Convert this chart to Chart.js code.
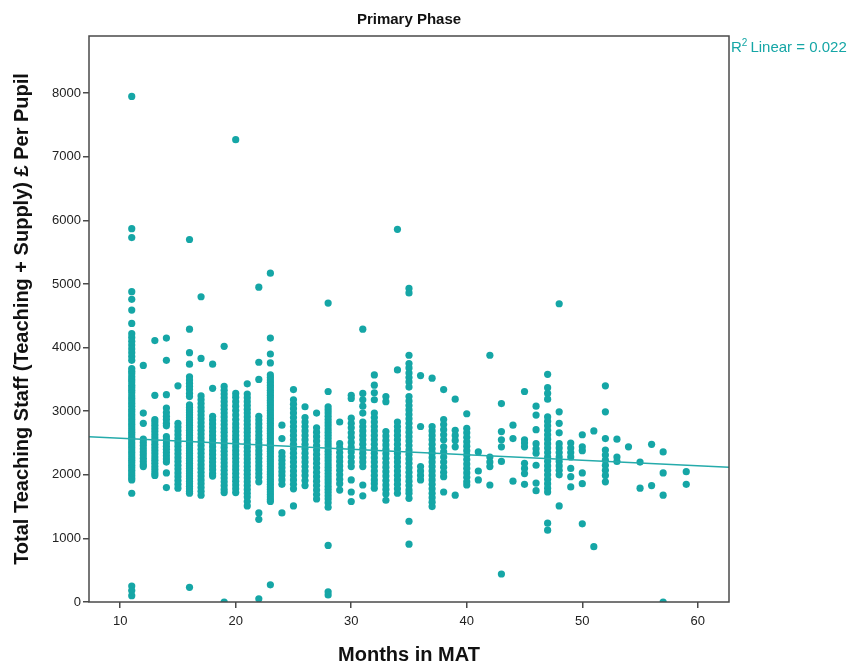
<!DOCTYPE html>
<html>
<head>
<meta charset="utf-8">
<title>Primary Phase</title>
<script src="https://cdn.jsdelivr.net/npm/chart.js@4.4.1/dist/chart.umd.min.js"></script>
<style>
  body { margin: 0; background: #fff; }
  canvas { display: block; }
</style>
</head>
<body>
<canvas id="phaseChart" width="849" height="664"></canvas>
<script>
// Teaching staff cost per pupil, one list per "months in MAT" value
const month11 = [7950, 5870, 5730, 4880, 4760, 4590, 4380, 4220, 4160, 4100, 4040, 3980, 3920, 3860, 3800,
  3670, 3630, 3590, 3540, 3500, 3460, 3410, 3370, 3330, 3290, 3240, 3200, 3160, 3120, 3080, 3030, 2990,
  2950, 2910, 2870, 2830, 2790, 2750, 2710, 2670, 2630, 2590, 2550, 2510, 2470, 2430, 2390, 2350, 2310,
  2270, 2230, 2190, 2150, 2110, 2070, 2030, 1990, 1950, 1920, 1710, 250, 180, 100];
const month12 = [3720, 2970, 2810, 2560, 2510, 2460, 2410, 2360, 2310, 2260, 2210, 2160, 2130];
const month13 = [4110, 3250, 2870, 2830, 2780, 2730, 2680, 2630, 2580, 2530, 2480, 2430, 2380, 2330, 2280,
  2230, 2180, 2130, 2080, 2030, 1990];
const month14 = [4150, 3800, 3260, 3050, 2980, 2920, 2870, 2810, 2770, 2600, 2550, 2500, 2450, 2400, 2350,
  2300, 2250, 2200, 2030, 1800];
const month15 = [3400, 2810, 2750, 2690, 2630, 2570, 2510, 2450, 2390, 2330, 2270, 2210, 2150, 2090, 2030,
  1970, 1910, 1850, 1790];
const month16 = [5700, 4290, 3920, 3740, 3540, 3490, 3440, 3390, 3340, 3280, 3230, 3100, 3060, 3020, 2980,
  2940, 2900, 2860, 2820, 2780, 2740, 2700, 2660, 2620, 2580, 2540, 2500, 2460, 2420, 2380, 2340, 2300,
  2260, 2220, 2180, 2140, 2100, 2060, 2020, 1980, 1940, 1900, 1860, 1820, 1780, 1740, 1710, 230];
const month17 = [4800, 3830, 3240, 3180, 3120, 3060, 3000, 2940, 2880, 2820, 2760, 2700, 2640, 2580, 2520,
  2460, 2400, 2340, 2280, 2220, 2160, 2100, 2040, 1980, 1920, 1860, 1800, 1740, 1680];
const month18 = [3740, 3360, 2920, 2860, 2800, 2740, 2680, 2620, 2560, 2500, 2440, 2380, 2320, 2260, 2200,
  2140, 2080, 2020, 1980];
const month19 = [4020, 3390, 3330, 3270, 3210, 3150, 3090, 3030, 2970, 2910, 2850, 2790, 2730, 2670, 2610,
  2550, 2490, 2430, 2370, 2310, 2250, 2190, 2130, 2070, 2010, 1950, 1890, 1830, 1770, 1720, 0];
const month20 = [7270, 3280, 3220, 3150, 3080, 3010, 2940, 2870, 2800, 2740, 2680, 2620, 2560, 2500, 2440,
  2380, 2320, 2260, 2200, 2140, 2080, 2020, 1960, 1900, 1840, 1780, 1720];
const month21 = [3430, 3270, 3210, 3150, 3090, 3030, 2970, 2910, 2850, 2790, 2730, 2670, 2610, 2550, 2490,
  2430, 2370, 2310, 2250, 2190, 2130, 2070, 2010, 1950, 1890, 1830, 1770, 1710, 1650, 1580, 1510];
const month22 = [4950, 3770, 3500, 2920, 2860, 2800, 2740, 2680, 2620, 2560, 2500, 2440, 2380, 2320, 2260,
  2200, 2140, 2080, 2020, 1960, 1890, 1400, 1300, 50];
const month23 = [5170, 4150, 3900, 3760, 3570, 3530, 3490, 3450, 3410, 3370, 3330, 3290, 3250, 3210, 3170,
  3130, 3090, 3050, 3010, 2970, 2930, 2890, 2850, 2810, 2770, 2730, 2690, 2650, 2610, 2570, 2530, 2490,
  2450, 2410, 2370, 2330, 2290, 2250, 2210, 2170, 2130, 2090, 2050, 2010, 1970, 1930, 1890, 1850, 1810,
  1770, 1730, 1690, 1650, 1610, 1580, 270];
const month24 = [2780, 2570, 2350, 2290, 2230, 2170, 2110, 2050, 1990, 1920, 1850, 1400];
const month25 = [3340, 3180, 3110, 3040, 2970, 2900, 2830, 2760, 2690, 2620, 2550, 2480, 2410, 2340, 2270,
  2200, 2130, 2060, 1990, 1920, 1850, 1780, 1510];
const month26 = [3070, 2900, 2830, 2760, 2690, 2620, 2550, 2480, 2410, 2340, 2270, 2200, 2130, 2060, 1990,
  1910, 1830];
const month27 = [2970, 2740, 2670, 2600, 2530, 2460, 2390, 2320, 2250, 2180, 2110, 2040, 1970, 1900, 1830,
  1760, 1690, 1620];
const month28 = [4700, 3310, 3070, 3020, 2970, 2920, 2870, 2820, 2770, 2720, 2670, 2620, 2570, 2520, 2470,
  2420, 2370, 2320, 2270, 2220, 2170, 2120, 2070, 2020, 1970, 1920, 1870, 1820, 1770, 1720, 1670, 1620,
  1560, 1490, 890, 160, 110];
const month29 = [2830, 2490, 2420, 2350, 2280, 2210, 2140, 2070, 2000, 1930, 1860, 1760];
const month30 = [3250, 3200, 2890, 2810, 2740, 2660, 2590, 2510, 2430, 2360, 2280, 2200, 2130, 1920, 1730, 1580];
const month31 = [4290, 3280, 3180, 3080, 2970, 2830, 2760, 2690, 2620, 2550, 2480, 2410, 2340, 2270, 2200,
  2130, 1840, 1670];
const month32 = [3570, 3410, 3290, 3180, 2970, 2900, 2830, 2760, 2690, 2620, 2550, 2480, 2410, 2340, 2270,
  2200, 2130, 2060, 1990, 1920, 1860, 1790];
const month33 = [3230, 3150, 2680, 2610, 2540, 2470, 2400, 2330, 2260, 2190, 2120, 2050, 1980, 1910, 1840,
  1770, 1700, 1600];
const month34 = [5860, 3650, 2830, 2760, 2690, 2620, 2550, 2480, 2410, 2340, 2270, 2200, 2130, 2060, 1990,
  1920, 1850, 1780, 1710];
const month35 = [4930, 4860, 3880, 3750, 3680, 3600, 3530, 3460, 3380, 3230, 3160, 3090, 3020, 2950, 2880,
  2810, 2740, 2670, 2600, 2530, 2460, 2390, 2320, 2250, 2180, 2110, 2040, 1970, 1900, 1830, 1760, 1710,
  1630, 1270, 910];
const month36 = [3560, 2760, 2130, 2060, 1990, 1920];
const month37 = [3520, 2760, 2690, 2620, 2550, 2480, 2410, 2340, 2270, 2200, 2130, 2060, 1990, 1920, 1850,
  1780, 1710, 1640, 1570, 1500];
const month38 = [3340, 2870, 2790, 2710, 2630, 2550, 2440, 2360, 2280, 2200, 2120, 2040, 1970, 1730];
const month39 = [3190, 2700, 2620, 2540, 2440, 1680];
const month40 = [2960, 2730, 2660, 2590, 2520, 2450, 2380, 2310, 2240, 2170, 2100, 2030, 1960, 1890, 1840];
const month41 = [2360, 2060, 1920];
const month42 = [3880, 2280, 2200, 2130, 1840];
const month43 = [3120, 2680, 2550, 2440, 2210, 440];
const month44 = [2780, 2570, 1900];
const month45 = [3310, 2550, 2500, 2440, 2180, 2100, 2020, 1850];
const month46 = [3080, 2940, 2710, 2490, 2410, 2340, 2150, 1870, 1750];
const month47 = [3580, 3370, 3280, 3190, 2910, 2840, 2770, 2700, 2630, 2560, 2490, 2420, 2350, 2280, 2210,
  2140, 2070, 2000, 1930, 1860, 1790, 1730, 1240, 1130];
const month48 = [4690, 2990, 2810, 2660, 2490, 2420, 2350, 2280, 2210, 2140, 2070, 2000, 1510];
const month49 = [2500, 2420, 2350, 2280, 2100, 1970, 1810];
const month50 = [2630, 2440, 2380, 2030, 1860, 1230];
const month51 = [2690, 870];
const month52 = [3400, 2990, 2570, 2390, 2310, 2230, 2150, 2070, 1990, 1890];
const month53 = [2560, 2280, 2210];
const month54 = [2440];
const month55 = [2200, 1790];
const month56 = [2480, 1830];
const month57 = [2360, 2030, 1680, 0];
const month59 = [2050, 1850];

const monthGroups = [
  [11, month11], [12, month12], [13, month13], [14, month14], [15, month15], [16, month16],
  [17, month17], [18, month18], [19, month19], [20, month20], [21, month21], [22, month22],
  [23, month23], [24, month24], [25, month25], [26, month26], [27, month27], [28, month28],
  [29, month29], [30, month30], [31, month31], [32, month32], [33, month33], [34, month34],
  [35, month35], [36, month36], [37, month37], [38, month38], [39, month39], [40, month40],
  [41, month41], [42, month42], [43, month43], [44, month44], [45, month45], [46, month46],
  [47, month47], [48, month48], [49, month49], [50, month50], [51, month51], [52, month52],
  [53, month53], [54, month54], [55, month55], [56, month56], [57, month57], [59, month59]
];

// fitted linear trend, ends at the axis limits
const fitMonths = [7.3, 62.7];
const fitValues = [2600, 2120];
const r2Text = 'Linear = 0.022';

const xTicks = [10, 20, 30, 40, 50, 60];
const yTicks = [0, 1000, 2000, 3000, 4000, 5000, 6000, 7000, 8000];

const teal = '#15a6a6';
const axisGrey = '#4a4a4a';
const fontFamily = '"Liberation Sans", Arial, sans-serif';

const points = [];
monthGroups.forEach(([m, vals]) => vals.forEach(v => points.push({ x: m, y: v })));

// frame round the plot, title and R² note
const framePlugin = {
  id: 'frame',
  afterDraw(chart) {
    const { ctx, chartArea: a } = chart;
    ctx.save();
    ctx.strokeStyle = axisGrey;
    ctx.lineWidth = 1.5;
    ctx.strokeRect(a.left, a.top, a.right - a.left, a.bottom - a.top);

    ctx.fillStyle = '#111';
    ctx.font = 'bold 15px ' + fontFamily;
    ctx.textAlign = 'center';
    ctx.textBaseline = 'alphabetic';
    ctx.fillText('Primary Phase', (a.left + a.right) / 2, 24);

    ctx.fillStyle = teal;
    ctx.textAlign = 'left';
    let x = a.right + 2;
    const base = 52;
    ctx.font = '15px ' + fontFamily;
    ctx.fillText('R', x, base);
    x += ctx.measureText('R').width;
    ctx.font = '10px ' + fontFamily;
    ctx.fillText('2', x, base - 6);
    x += ctx.measureText('2').width + 3;
    ctx.font = '15px ' + fontFamily;
    ctx.fillText(r2Text, x, base);
    ctx.restore();
  }
};

new Chart(document.getElementById('phaseChart'), {
  type: 'scatter',
  data: {
    datasets: [
      {
        type: 'line',
        label: 'Linear fit',
        data: fitMonths.map((m, i) => ({ x: m, y: fitValues[i] })),
        borderColor: '#25abab',
        borderWidth: 1.5,
        pointRadius: 0,
        fill: false
      },
      {
        label: 'Schools',
        data: points,
        backgroundColor: teal,
        borderColor: teal,
        borderWidth: 0,
        pointRadius: 3.6
      }
    ]
  },
  options: {
    responsive: false,
    animation: false,
    layout: { padding: { top: 36, right: 120, bottom: 0, left: 0 } },
    plugins: {
      legend: { display: false },
      tooltip: { enabled: false }
    },
    scales: {
      x: {
        type: 'linear',
        min: 7.3,
        max: 62.7,
        afterBuildTicks: s => { s.ticks = xTicks.map(v => ({ value: v })); },
        afterFit: s => { s.height = 62; },
        grid: { drawOnChartArea: false, drawTicks: true, tickLength: 6, color: axisGrey, lineWidth: 1.5 },
        border: { display: false },
        ticks: { color: '#222', padding: 6, font: { family: fontFamily, size: 13 }, callback: v => String(v) },
        title: {
          display: true,
          text: 'Months in MAT',
          color: '#111',
          padding: 0,
          font: { family: fontFamily, size: 20, weight: 'bold', lineHeight: 0.9 }
        }
      },
      y: {
        type: 'linear',
        min: 0,
        max: 8900,
        afterBuildTicks: s => { s.ticks = yTicks.map(v => ({ value: v })); },
        afterFit: s => { s.width = 89; },
        grid: { drawOnChartArea: false, drawTicks: true, tickLength: 6, color: axisGrey, lineWidth: 1.5 },
        border: { display: false },
        ticks: { color: '#222', padding: 2, font: { family: fontFamily, size: 13 }, callback: v => String(v) },
        title: {
          display: true,
          text: 'Total Teaching Staff (Teaching + Supply) £ Per Pupil',
          color: '#111',
          padding: { top: 10, bottom: 0 },
          font: { family: fontFamily, size: 20, weight: 'bold' }
        }
      }
    }
  },
  plugins: [framePlugin]
});
</script>
</body>
</html>
